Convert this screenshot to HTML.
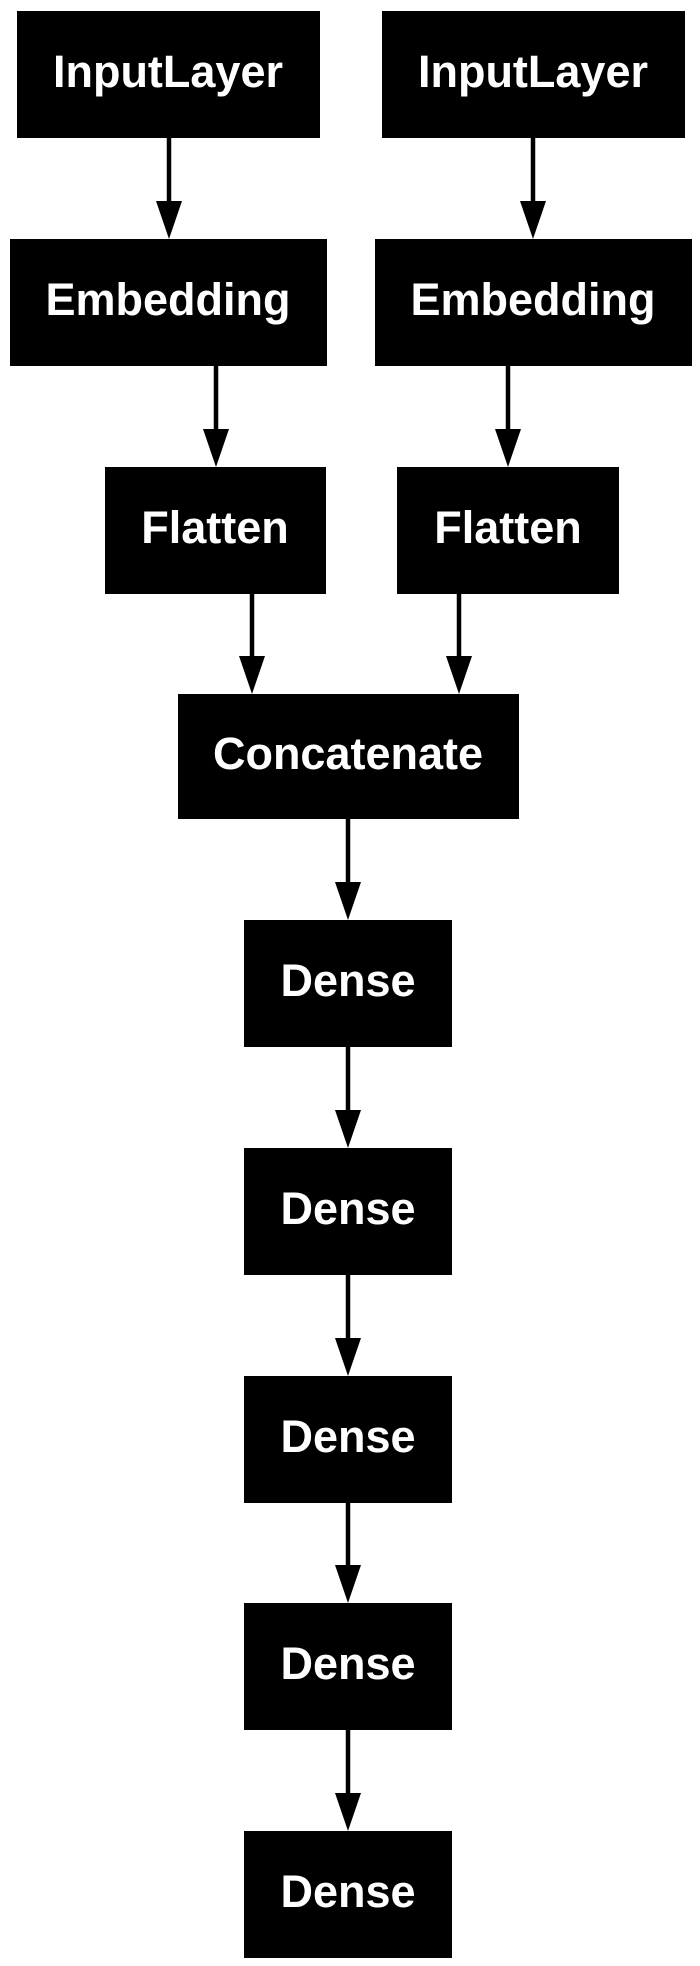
<!DOCTYPE html>
<html><head><style>
html,body{margin:0;padding:0;background:#fff;width:700px;height:1966px;overflow:hidden}
text{font-family:"Liberation Sans",Arial,sans-serif;font-weight:bold;font-size:45px;fill:#fff}
</style></head><body>
<svg width="700" height="1966" xmlns="http://www.w3.org/2000/svg">
<g fill="#000">
<rect x="17" y="11" width="303" height="127"/>
<rect x="382" y="11" width="303" height="127"/>
<rect x="10" y="239" width="317" height="127"/>
<rect x="375" y="239" width="317" height="127"/>
<rect x="105" y="467" width="221" height="127"/>
<rect x="397" y="467" width="222" height="127"/>
<rect x="178" y="694" width="341" height="125"/>
<rect x="244" y="920" width="208" height="127"/>
<rect x="244" y="1148" width="208" height="127"/>
<rect x="244" y="1376" width="208" height="127"/>
<rect x="244" y="1603" width="208" height="127"/>
<rect x="244" y="1831" width="208" height="127"/>
</g>
<g stroke="#000" stroke-width="4.5">
<line x1="169" y1="138" x2="169" y2="205"/>
<line x1="533" y1="138" x2="533" y2="205"/>
<line x1="216" y1="366" x2="216" y2="433"/>
<line x1="508" y1="366" x2="508" y2="433"/>
<line x1="252" y1="594" x2="252" y2="660"/>
<line x1="459" y1="594" x2="459" y2="660"/>
<line x1="348" y1="819" x2="348" y2="885"/>
<line x1="348" y1="1047" x2="348" y2="1113"/>
<line x1="348" y1="1275" x2="348" y2="1341"/>
<line x1="348" y1="1503" x2="348" y2="1568"/>
<line x1="348" y1="1730" x2="348" y2="1796"/>
</g>
<g fill="#000">
<polygon points="156,201 182,201 169,239"/>
<polygon points="520,201 546,201 533,239"/>
<polygon points="203,429 229,429 216,467"/>
<polygon points="495,429 521,429 508,467"/>
<polygon points="239,656 265,656 252,694"/>
<polygon points="446,656 472,656 459,694"/>
<polygon points="335,882 361,882 348,920"/>
<polygon points="335,1110 361,1110 348,1148"/>
<polygon points="335,1338 361,1338 348,1376"/>
<polygon points="335,1565 361,1565 348,1603"/>
<polygon points="335,1793 361,1793 348,1831"/>
</g>
<g text-anchor="middle">
<text x="168" y="87">InputLayer</text>
<text x="533" y="87">InputLayer</text>
<text x="168" y="315">Embedding</text>
<text x="533" y="315">Embedding</text>
<text x="215" y="543">Flatten</text>
<text x="508" y="543">Flatten</text>
<text x="348" y="769">Concatenate</text>
<text x="348" y="996">Dense</text>
<text x="348" y="1224">Dense</text>
<text x="348" y="1452">Dense</text>
<text x="348" y="1679">Dense</text>
<text x="348" y="1907">Dense</text>
</g>
</svg>
</body></html>
